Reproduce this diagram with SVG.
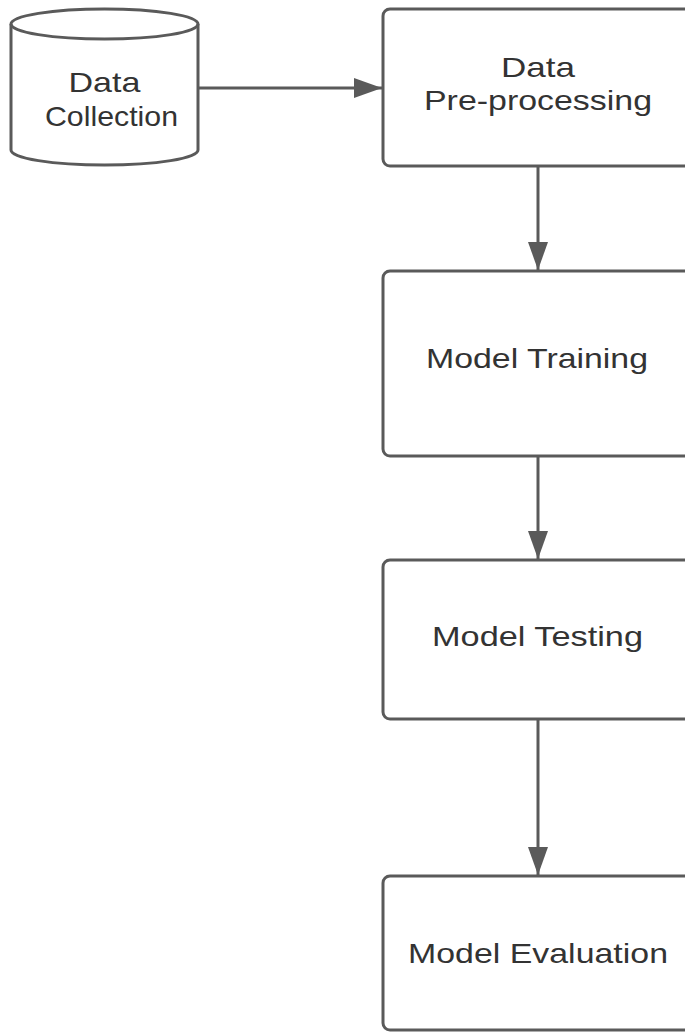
<svg xmlns="http://www.w3.org/2000/svg" width="685" height="1032" viewBox="0 0 685 1032">
  <defs>
    <style>
      .shape { fill: #ffffff; stroke: #5a5a5a; stroke-width: 3; }
      .label { font-family: "Liberation Sans", Arial, sans-serif; font-size: 28px; fill: #333333; text-anchor: middle; }
      .link { fill: none; stroke: #5a5a5a; stroke-width: 3; }
    </style>
    <marker id="arrow" markerWidth="10" markerHeight="10" refX="9" refY="5" orient="auto" markerUnits="userSpaceOnUse" viewBox="0 0 10 10">
      <path d="M0,0 L10,5 L0,10 Z" fill="#5a5a5a"/>
    </marker>
    <marker id="head" viewBox="0 0 28 20" refX="28" refY="10" markerWidth="28" markerHeight="20" orient="auto" markerUnits="userSpaceOnUse">
      <path d="M0,0 L28,10 L0,20 Z" fill="#5a5a5a"/>
    </marker>
  </defs>
  <rect width="685" height="1032" fill="#ffffff"/>

  <!-- connectors -->
  <g id="connectors">
    <line class="link" x1="198" y1="88" x2="382" y2="88" marker-end="url(#head)"/>
    <line class="link" x1="538" y1="166" x2="538" y2="270" marker-end="url(#head)"/>
    <line class="link" x1="538" y1="456" x2="538" y2="559" marker-end="url(#head)"/>
    <line class="link" x1="538" y1="719" x2="538" y2="875" marker-end="url(#head)"/>
  </g>

  <!-- data source cylinder -->
  <g id="data-collection">
    <path class="shape" d="M11,24 L11,150 A93.5,15 0 0 0 198,150 L198,24 A93.5,15 0 0 0 11,24 Z"/>
    <path class="shape" style="fill:none" d="M11,24 A93.5,15 0 0 0 198,24"/>
    <text class="label" x="104.5" y="92" textLength="72" lengthAdjust="spacingAndGlyphs">Data</text>
    <text class="label" x="111.5" y="126" textLength="133" lengthAdjust="spacingAndGlyphs">Collection</text>
  </g>

  <g id="data-preprocessing">
    <rect class="shape" x="383" y="9" width="310" height="157" rx="7"/>
    <text class="label" x="538" y="77" textLength="74" lengthAdjust="spacingAndGlyphs">Data</text>
    <text class="label" x="538" y="110" textLength="228" lengthAdjust="spacingAndGlyphs">Pre-processing</text>
  </g>

  <g id="model-training">
    <rect class="shape" x="383" y="271" width="310" height="185" rx="7"/>
    <text class="label" x="537" y="368" textLength="222" lengthAdjust="spacingAndGlyphs">Model Training</text>
  </g>

  <g id="model-testing">
    <rect class="shape" x="383" y="560" width="310" height="159" rx="7"/>
    <text class="label" x="537.5" y="646" textLength="211" lengthAdjust="spacingAndGlyphs">Model Testing</text>
  </g>

  <g id="model-evaluation">
    <rect class="shape" x="383" y="876" width="310" height="154" rx="7"/>
    <text class="label" x="538" y="963" textLength="260" lengthAdjust="spacingAndGlyphs">Model Evaluation</text>
  </g>
</svg>
